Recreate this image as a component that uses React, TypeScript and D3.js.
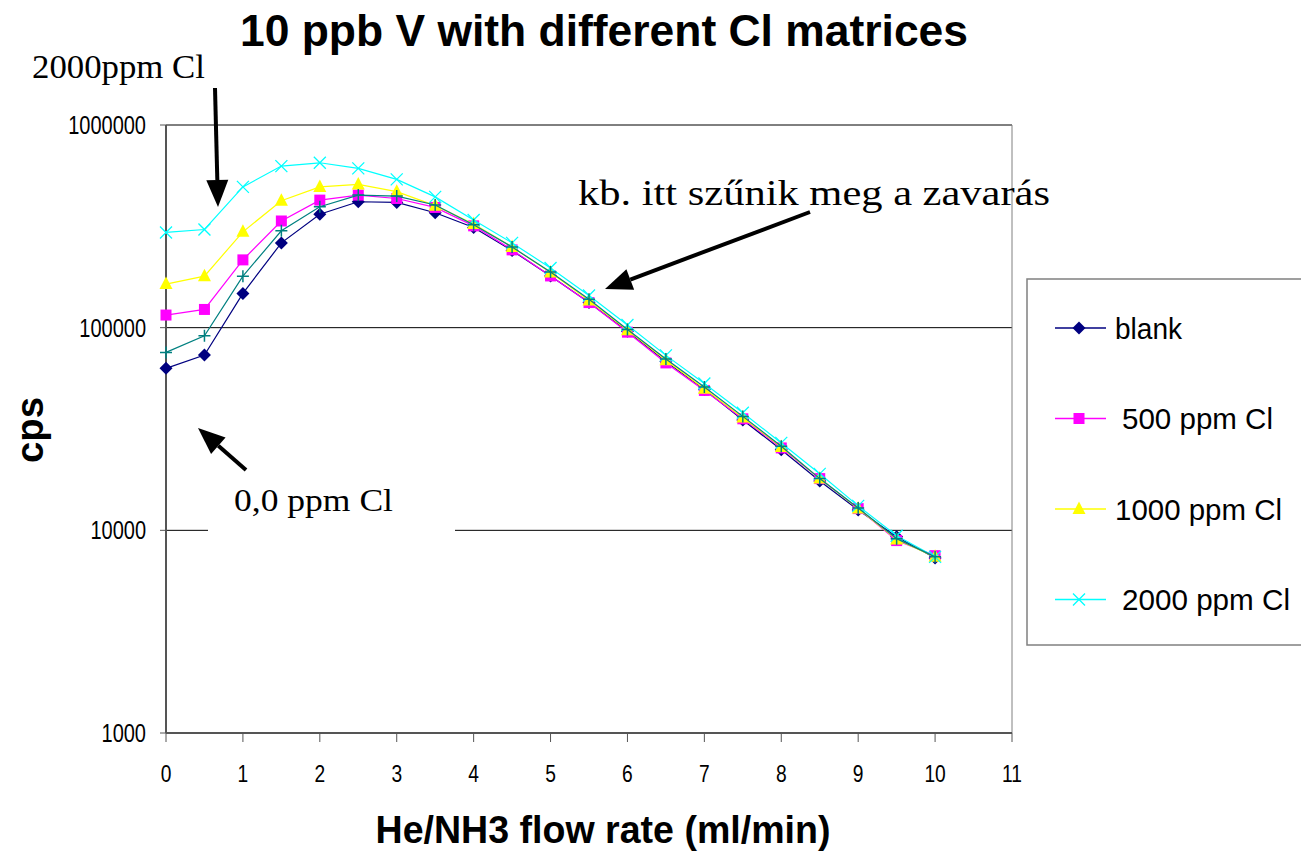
import * as d3 from 'd3';

const flow = [0, 0.5, 1, 1.5, 2, 2.5, 3, 3.5, 4, 4.5, 5, 5.5, 6, 6.5, 7, 7.5, 8, 8.5, 9, 9.5, 10];

const blank = [63000, 73300, 147600, 262000, 363000, 418000, 415000, 369000, 312000, 240000, 180000, 133000, 96000, 68000, 49500, 35000, 25000, 17500, 12600, 9300, 7300];
const cl500 = [115400, 123000, 216000, 336000, 426000, 451000, 434000, 392000, 318000, 242000, 180000, 133000, 95000, 67000, 49000, 35500, 25500, 18000, 12800, 8900, 7500];
const cl1000 = [164000, 179600, 297000, 423000, 495000, 509000, 469000, 400000, 325000, 250000, 187000, 136000, 97000, 69000, 50000, 36000, 25800, 18000, 12800, 9000, 7400];
const cl2000 = [295000, 305000, 495000, 627000, 651000, 611000, 539000, 442000, 340000, 262000, 197000, 144000, 103000, 73000, 53000, 38000, 27000, 19000, 13200, 9400, 7400];
// fifth series, drawn but not listed in the (cut-off) legend
const extra = [75500, 91200, 179600, 300700, 395000, 451000, 446000, 403000, 322000, 250000, 188000, 138000, 98000, 70000, 51000, 36500, 26000, 18000, 12900, 9100, 7400];

const yTicks = [1000, 10000, 100000, 1000000];
const xTicks = [0, 1, 2, 3, 4, 5, 6, 7, 8, 9, 10, 11];

const series = [
  { name: 'blank', values: blank, color: '#000080', marker: 'diamond', legend: true },
  { name: '500 ppm Cl', values: cl500, color: '#ff00ff', marker: 'square', legend: true },
  { name: '1000 ppm Cl', values: cl1000, color: '#ffff00', marker: 'triangle', legend: true },
  { name: '2000 ppm Cl', values: cl2000, color: '#00ffff', marker: 'x', legend: true },
  { name: 'extra', values: extra, color: '#008080', marker: 'plus', legend: false },
];

const SANS = '"Liberation Sans", Arial, sans-serif';
const SERIF = '"Liberation Serif", "Times New Roman", serif';

function Marker({ type, x, y, color }: { type: string; x: number; y: number; color: string }) {
  if (type === 'diamond') {
    const s = 6.5;
    return <path d={`M${x},${y - s}L${x + s},${y}L${x},${y + s}L${x - s},${y}Z`} fill={color} />;
  }
  if (type === 'square') {
    const s = 5.5;
    return <rect x={x - s} y={y - s} width={2 * s} height={2 * s} fill={color} />;
  }
  if (type === 'triangle') {
    return <path d={`M${x},${y - 7.5}L${x + 6.5},${y + 5}L${x - 6.5},${y + 5}Z`} fill={color} />;
  }
  if (type === 'x') {
    const s = 6;
    return (
      <path d={`M${x - s},${y - s}L${x + s},${y + s}M${x - s},${y + s}L${x + s},${y - s}`} stroke={color} strokeWidth={1.3} />
    );
  }
  const s = 6;
  return <path d={`M${x - s},${y}L${x + s},${y}M${x},${y - s}L${x},${y + s}`} stroke={color} strokeWidth={1.5} />;
}

function Arrow({ x1, y1, x2, y2 }: { x1: number; y1: number; x2: number; y2: number }) {
  const ang = Math.atan2(y2 - y1, x2 - x1);
  const len = 27;
  const half = 11;
  const bx = x2 - len * Math.cos(ang);
  const by = y2 - len * Math.sin(ang);
  const px = -Math.sin(ang) * half;
  const py = Math.cos(ang) * half;
  return (
    <g>
      <line x1={x1} y1={y1} x2={bx} y2={by} stroke="#000" strokeWidth={4} />
      <path d={`M${x2},${y2}L${bx + px},${by + py}L${bx - px},${by - py}Z`} fill="#000" />
    </g>
  );
}

// condensed sans label, like the narrow font of the original
function Narrow({ x, y, anchor, size, children }: { x: number; y: number; anchor: string; size: number; children: any }) {
  return (
    <text transform={`translate(${x},${y}) scale(0.8,1)`} textAnchor={anchor} fontFamily={SANS} fontSize={size}>
      {children}
    </text>
  );
}

export default function App() {
  const width = 1301;
  const height = 853;
  const x = d3.scaleLinear().domain([0, 11]).range([166, 1012]);
  const y = d3.scaleLog().domain([1000, 1000000]).range([733, 125]);

  const line = d3.line<number>()
    .x((_, i) => x(flow[i]))
    .y(d => y(d));

  const legendRows = series.filter(s => s.legend);

  return (
    <svg width={width} height={height} style={{ display: 'block', position: 'absolute', left: 0, top: 0, background: '#fff' }}>
      <rect x={0} y={0} width={width} height={height} fill="#fff" />

      {/* gridlines */}
      {yTicks.slice(1).map(t => (
        <line key={t} x1={x(0)} x2={x(11)} y1={y(t)} y2={y(t)} stroke="#000" strokeWidth={1} />
      ))}
      {/* plot border right */}
      <line x1={x(11)} x2={x(11)} y1={y(1000000)} y2={y(1000)} stroke="#808080" strokeWidth={1} />

      {/* axes */}
      <line x1={x(0)} x2={x(0)} y1={y(1000000)} y2={y(1000)} stroke="#555" strokeWidth={2} />
      <line x1={x(0)} x2={x(11)} y1={y(1000)} y2={y(1000)} stroke="#555" strokeWidth={2} />
      {yTicks.map(t => (
        <g key={t}>
          <line x1={x(0) - 6} x2={x(0)} y1={y(t)} y2={y(t)} stroke="#555" strokeWidth={1} />
          <Narrow x={146} y={y(t) + 9} anchor="end" size={25}>{t}</Narrow>
        </g>
      ))}
      {xTicks.map(t => (
        <g key={t}>
          <line x1={x(t)} x2={x(t)} y1={y(1000)} y2={y(1000) + 9} stroke="#555" strokeWidth={1} />
          <Narrow x={x(t)} y={782} anchor="middle" size={24}>{t}</Narrow>
        </g>
      ))}

      {/* white label box for 0,0 ppm Cl */}
      <rect x={208} y={470} width={247} height={75} fill="#fff" />

      {/* series */}
      {series.map(s => (
        <g key={s.name}>
          <path d={line(s.values) ?? ''} fill="none" stroke={s.color} strokeWidth={1.2} />
          {s.values.map((v, i) => (
            <Marker key={i} type={s.marker} x={x(flow[i])} y={y(v)} color={s.color} />
          ))}
        </g>
      ))}

      {/* title and axis labels */}
      <text x={240} y={46} fontFamily={SANS} fontWeight="bold" fontSize={45} textLength={728} lengthAdjust="spacingAndGlyphs">
        10 ppb V with different Cl matrices
      </text>
      <text x={603} y={843} textAnchor="middle" fontFamily={SANS} fontWeight="bold" fontSize={38} textLength={455} lengthAdjust="spacingAndGlyphs">
        He/NH3 flow rate (ml/min)
      </text>
      <text transform="translate(43,430) rotate(-90)" textAnchor="middle" fontFamily={SANS} fontWeight="bold" fontSize={38} textLength={66} lengthAdjust="spacingAndGlyphs">
        cps
      </text>

      {/* annotations */}
      <text x={32} y={78} fontFamily={SERIF} fontSize={34} textLength={173} lengthAdjust="spacingAndGlyphs">2000ppm Cl</text>
      <Arrow x1={215} y1={88} x2={218} y2={207} />
      <text x={578} y={205} fontFamily={SERIF} fontSize={36} textLength={472} lengthAdjust="spacingAndGlyphs">kb. itt szűnik meg a zavarás</text>
      <Arrow x1={810} y1={212} x2={605} y2={289} />
      <text x={234} y={511} fontFamily={SERIF} fontSize={31} textLength={159} lengthAdjust="spacingAndGlyphs">0,0 ppm Cl</text>
      <Arrow x1={246} y1={470} x2={198} y2={428} />

      {/* legend */}
      <rect x={1027} y={279} width={300} height={366} fill="#fff" stroke="#808080" strokeWidth={1.5} />
      {legendRows.map((s, i) => {
        const ly = 328 + i * 90.5;
        const widths = [67, 151, 167, 168];
        return (
          <g key={s.name}>
            <line x1={1055} x2={1106} y1={ly} y2={ly} stroke={s.color} strokeWidth={1.5} />
            <Marker type={s.marker} x={1079} y={ly} color={s.color} />
            <text x={i === 0 || i === 2 ? 1115 : 1122} y={ly} dy="0.36em" fontFamily={SANS} fontSize={30} textLength={widths[i]} lengthAdjust="spacingAndGlyphs">
              {s.name}
            </text>
          </g>
        );
      })}
    </svg>
  );
}
